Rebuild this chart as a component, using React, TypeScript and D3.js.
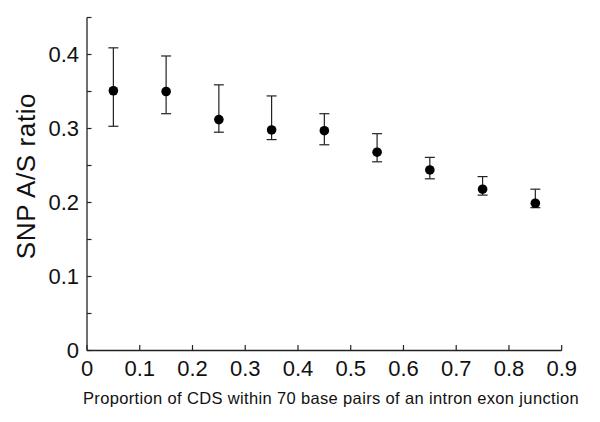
import React from "react";
import * as d3 from "d3";

const xValues = [0.05, 0.15, 0.25, 0.35, 0.45, 0.55, 0.65, 0.75, 0.85];
const meanValues = [0.351, 0.350, 0.312, 0.298, 0.297, 0.268, 0.244, 0.218, 0.199];
const upperValues = [0.409, 0.398, 0.359, 0.344, 0.320, 0.293, 0.261, 0.235, 0.218];
const lowerValues = [0.303, 0.320, 0.295, 0.285, 0.278, 0.255, 0.232, 0.210, 0.193];
const xTicks = [0, 0.1, 0.2, 0.3, 0.4, 0.5, 0.6, 0.7, 0.8, 0.9];
const yMajorTicks = [0, 0.1, 0.2, 0.3, 0.4];
const yMinorTicks = [0.05, 0.15, 0.25, 0.35, 0.45];

const W = 600;
const H = 422;
const font = "'Liberation Sans', Arial, Helvetica, sans-serif";

export default function App() {
  const x = d3.scaleLinear().domain([0, 0.9]).range([87, 561.7]);
  const y = d3.scaleLinear().domain([0, 0.45]).range([350.5, 17.5]);
  const fmt = (v: number) => (v === 0 ? "0" : d3.format(".1f")(v));
  const axisColor = "#222";
  const capHalf = 5;

  return (
    <svg
      width={W}
      height={H}
      style={{ position: "absolute", left: 0, top: 0, background: "#fff" }}
      fontFamily={font}
    >
      <rect width={W} height={H} fill="#fff" />
      <line x1={x(0)} x2={x(0)} y1={y(0)} y2={y(0.45)} stroke={axisColor} strokeWidth={1.3} />
      <line x1={x(0)} x2={x(0.9)} y1={y(0)} y2={y(0)} stroke={axisColor} strokeWidth={1.3} />
      {yMajorTicks.concat(yMinorTicks).map((t) => (
        <line key={"yt" + t} x1={x(0)} x2={x(0) + 4.5} y1={y(t)} y2={y(t)} stroke={axisColor} strokeWidth={1.2} />
      ))}
      {yMajorTicks.map((t) => (
        <text key={"yl" + t} x={79} y={y(t) + 7.5} fontSize={22} textAnchor="end" fill="#111">
          {fmt(t)}
        </text>
      ))}
      {xTicks.map((t) => (
        <line key={"xt" + t} x1={x(t)} x2={x(t)} y1={y(0)} y2={y(0) - 5.5} stroke={axisColor} strokeWidth={1.2} />
      ))}
      {xTicks.map((t) => (
        <text key={"xl" + t} x={x(t)} y={375.5} fontSize={22} textAnchor="middle" fill="#111">
          {fmt(t)}
        </text>
      ))}
      <text x={331} y={404} fontSize={16.5} letterSpacing={0.35} textAnchor="middle" fill="#111">
        Proportion of CDS within 70 base pairs of an intron exon junction
      </text>
      <text
        transform={`translate(35,176) rotate(-90)`}
        fontSize={26}
        letterSpacing={0.6}
        textAnchor="middle"
        fill="#111"
      >
        SNP A/S ratio
      </text>
      {xValues.map((xv, i) => (
        <g key={"e" + i} stroke="#222" strokeWidth={1.2}>
          <line x1={x(xv)} x2={x(xv)} y1={y(upperValues[i])} y2={y(lowerValues[i])} />
          <line x1={x(xv) - capHalf} x2={x(xv) + capHalf} y1={y(upperValues[i])} y2={y(upperValues[i])} />
          <line x1={x(xv) - capHalf} x2={x(xv) + capHalf} y1={y(lowerValues[i])} y2={y(lowerValues[i])} />
        </g>
      ))}
      {xValues.map((xv, i) => (
        <circle key={"p" + i} cx={x(xv)} cy={y(meanValues[i])} r={4.8} fill="#000" />
      ))}
    </svg>
  );
}
